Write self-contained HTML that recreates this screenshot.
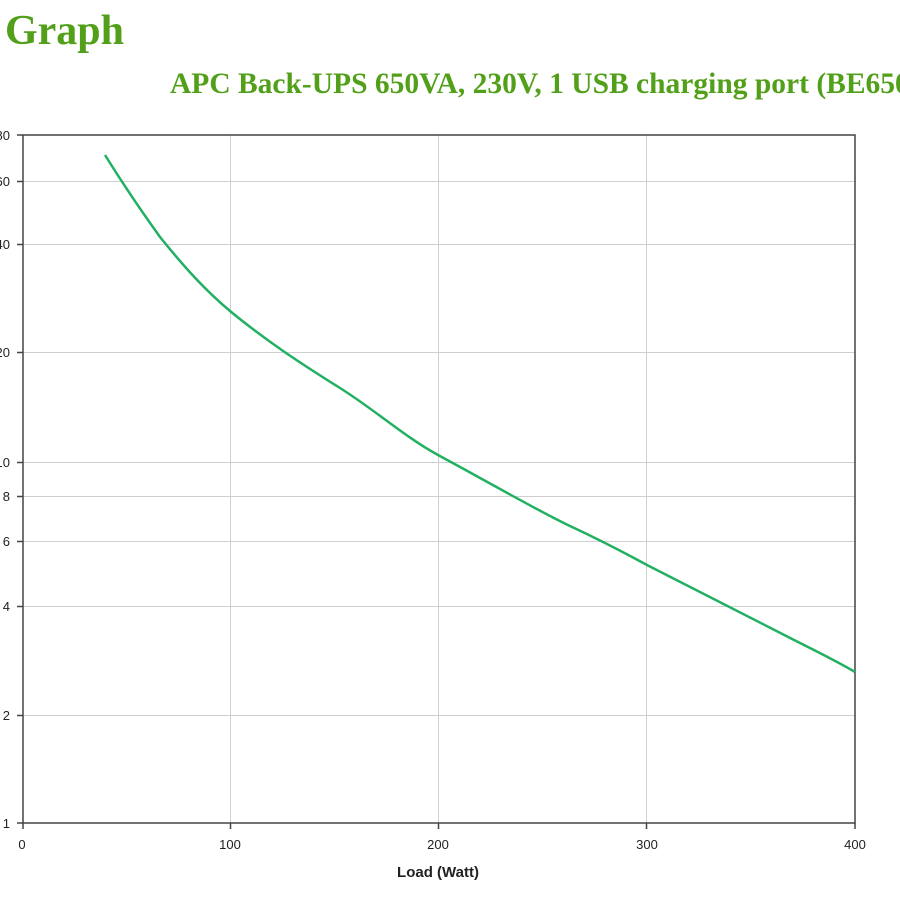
<!DOCTYPE html>
<html><head><meta charset="utf-8"><style>
html,body{margin:0;padding:0;background:#fff;width:900px;height:900px;overflow:hidden;position:relative}
.t{position:absolute;font-family:"Liberation Serif",serif;font-weight:bold;color:#52a01a;white-space:nowrap;overflow:hidden}
</style></head><body>
<div class="t" style="left:5px;top:7px;font-size:42px;line-height:48px">Graph</div>
<div class="t" style="left:170px;top:66px;width:730px;font-size:29.5px;line-height:36px">APC Back-UPS 650VA, 230V, 1 USB charging port (BE650G2-SP)</div>
<svg width="900" height="900" style="position:absolute;left:0;top:0" font-family="Liberation Sans, sans-serif" font-size="13" fill="#222">
<g stroke="#cfcfcf" stroke-width="1">
<line x1="230.5" y1="135" x2="230.5" y2="823"/>
<line x1="438.5" y1="135" x2="438.5" y2="823"/>
<line x1="646.5" y1="135" x2="646.5" y2="823"/>
<line x1="23" y1="181.5" x2="855" y2="181.5"/>
<line x1="23" y1="244.5" x2="855" y2="244.5"/>
<line x1="23" y1="352.5" x2="855" y2="352.5"/>
<line x1="23" y1="462.5" x2="855" y2="462.5"/>
<line x1="23" y1="496.5" x2="855" y2="496.5"/>
<line x1="23" y1="541.5" x2="855" y2="541.5"/>
<line x1="23" y1="606.5" x2="855" y2="606.5"/>
<line x1="23" y1="715.5" x2="855" y2="715.5"/>
</g>
<rect x="23" y="135" width="832" height="688" fill="none" stroke="#444" stroke-width="1.5"/>
<g stroke="#444" stroke-width="1.5">
<line x1="17" y1="135" x2="23" y2="135"/><line x1="17" y1="181.5" x2="23" y2="181.5"/>
<line x1="17" y1="244.5" x2="23" y2="244.5"/><line x1="17" y1="352.5" x2="23" y2="352.5"/>
<line x1="17" y1="462.5" x2="23" y2="462.5"/><line x1="17" y1="496.5" x2="23" y2="496.5"/>
<line x1="17" y1="541.5" x2="23" y2="541.5"/><line x1="17" y1="606.5" x2="23" y2="606.5"/>
<line x1="17" y1="715.5" x2="23" y2="715.5"/><line x1="17" y1="823" x2="23" y2="823"/>
<line x1="23" y1="823" x2="23" y2="829"/><line x1="230.5" y1="823" x2="230.5" y2="829"/>
<line x1="438.5" y1="823" x2="438.5" y2="829"/><line x1="646.5" y1="823" x2="646.5" y2="829"/>
<line x1="855" y1="823" x2="855" y2="829"/>
</g>
<g text-anchor="end">
<text x="10" y="140">80</text><text x="10" y="186">60</text><text x="10" y="249">40</text>
<text x="10" y="357">20</text><text x="10" y="467">10</text><text x="10" y="501">8</text>
<text x="10" y="546">6</text><text x="10" y="611">4</text><text x="10" y="720">2</text><text x="10" y="828">1</text>
</g>
<g text-anchor="middle">
<text x="22" y="849">0</text><text x="230" y="849">100</text><text x="438" y="849">200</text>
<text x="647" y="849">300</text><text x="855" y="849">400</text>
<text x="438" y="877" font-weight="bold" font-size="15">Load (Watt)</text>
</g>
<path d="M105,155 C118,176 137,205 160,237 C185,268 205,290 230,311 C265,340 300,363 340,388 C375,410 405,437 438,455 C490,483 540,512 570,526 C600,540 625,553 647,565 C700,592 750,618 800,643 C830,658 845,666 855,672" fill="none" stroke="#22b062" stroke-width="2.5"/>
</svg>
</body></html>
